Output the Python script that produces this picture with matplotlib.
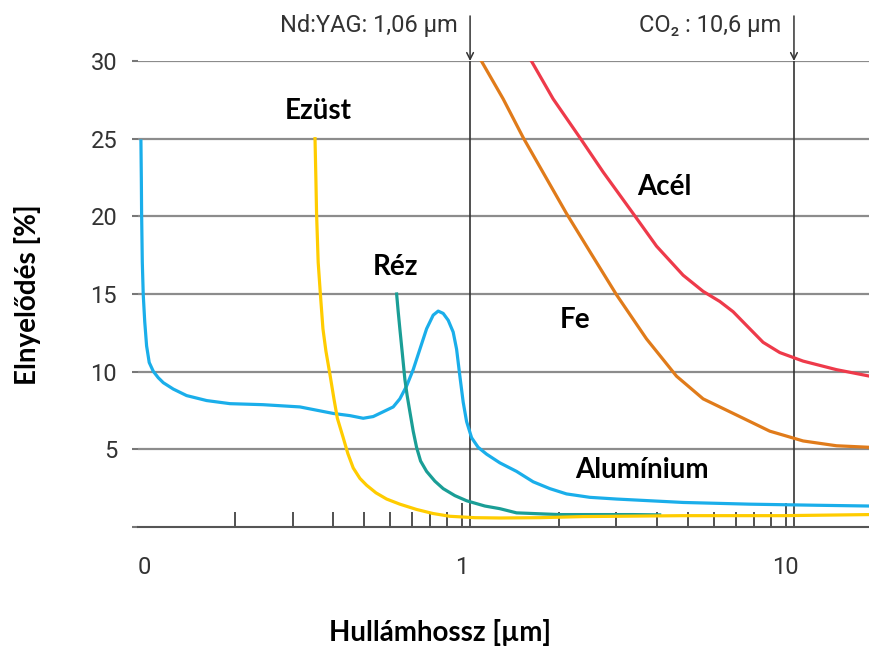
import numpy as np
import matplotlib
matplotlib.use("Agg")
import matplotlib.pyplot as plt
import matplotlib.transforms as mtransforms
from matplotlib.ticker import FixedLocator, NullFormatter

plt.rcParams['font.family'] = ['Roboto', 'DejaVu Sans']

# Wavelength [µm] / absorption [%] readings per metal
ag_x = [0.3520, 0.3542, 0.3559, 0.3600, 0.3658, 0.3724, 0.3804, 0.3915, 0.4027,
        0.4126, 0.4301, 0.4445, 0.4619, 0.4843, 0.5079, 0.5429, 0.5856, 0.6434,
        0.7246, 0.8138, 0.9183, 1.097, 1.31, 1.741, 2.36, 4.81, 9.79, 18.2]
ag_y = [25.0, 22.4, 20.18, 17.04, 14.95, 12.76, 11.32, 9.81, 8.25,
        7.0, 5.75, 4.73, 3.8, 3.13, 2.69, 2.2, 1.8, 1.47,
        1.13, 0.87, 0.69, 0.6, 0.58, 0.6, 0.67, 0.73, 0.73, 0.8]

cu_x = [0.6288, 0.6359, 0.6434, 0.6544, 0.6668, 0.6777, 0.6909, 0.7074, 0.7246,
        0.7455, 0.7781, 0.8254, 0.8756, 0.9514, 1.0339, 1.1776, 1.31, 1.475,
        1.741, 2.007, 2.667, 3.37, 4.08]
cu_y = [15.0, 13.86, 12.76, 11.23, 9.5, 8.46, 7.42, 6.17, 5.13,
        4.25, 3.58, 2.95, 2.47, 2.02, 1.69, 1.35, 1.18, 0.91,
        0.85, 0.8, 0.8, 0.8, 0.78]

al_x = [0.1021, 0.1024, 0.1026, 0.1031, 0.1038, 0.1049, 0.1063, 0.1083, 0.1115,
        0.1155, 0.1197, 0.1285, 0.1413, 0.1629, 0.1923, 0.2430, 0.3162, 0.3559,
        0.4007, 0.4511, 0.4958, 0.5324, 0.5717, 0.6137, 0.6434, 0.6751, 0.7074,
        0.7420, 0.7781, 0.8155, 0.8450, 0.8756, 0.9073, 0.9400, 0.9630, 0.9858,
        1.0093, 1.0339, 1.0713, 1.1226, 1.1918, 1.3099, 1.475, 1.66, 1.869,
        2.104, 2.483, 3.002, 3.804, 4.82, 7.74, 12.44, 18.17]
al_y = [24.85, 22.4, 20.18, 17.06, 14.95, 13.22, 11.66, 10.59, 10.02,
        9.61, 9.29, 8.88, 8.46, 8.14, 7.94, 7.875, 7.73, 7.52,
        7.31, 7.17, 7.0, 7.11, 7.42, 7.73, 8.25, 9.08, 10.13,
        11.45, 12.76, 13.64, 13.9, 13.75, 13.31, 12.55, 11.45, 9.71,
        8.04, 6.79, 5.75, 5.13, 4.69, 4.13, 3.58, 2.91, 2.47,
        2.13, 1.91, 1.8, 1.69, 1.58, 1.47, 1.4, 1.35]

fe_x = [1.150, 1.341, 1.546, 1.804, 2.104, 2.513, 3.002, 3.716, 4.599, 5.557,
        7.045, 8.925, 11.31, 14.34, 18.17]
fe_y = [29.98, 27.56, 25.07, 22.62, 20.18, 17.56, 14.95, 12.11, 9.71, 8.25,
        7.21, 6.17, 5.54, 5.23, 5.13]

steel_x = [1.641, 1.913, 2.313, 2.730, 3.379, 3.990, 4.82, 5.557, 6.256, 6.877,
           7.562, 8.511, 9.583, 11.31, 14.34, 18.17]
steel_y = [29.98, 27.56, 25.07, 22.85, 20.18, 18.08, 16.21, 15.17, 14.52, 13.86,
           12.98, 11.89, 11.23, 10.68, 10.13, 9.71]

laser_lines = [1.06, 10.6]
laser_labels = ['Nd:YAG: 1,06 µm', 'CO₂ : 10,6 µm']

yticks = [0, 5, 10, 15, 20, 25, 30]
ytick_labels = ['', '5', '10', '15', '20', '25', '30']
xticks = [0.1, 1, 10]
xtick_labels = ['0', '1', '10']
xminor = [0.2, 0.3, 0.4, 0.5, 0.6, 0.7, 0.8, 0.9, 2, 3, 4, 5, 6, 7, 8, 9]

fig = plt.figure(figsize=(8.7, 6.46), dpi=100)
ax = fig.add_axes([138 / 870, 1 - 527 / 646, 732 / 870, (527 - 61) / 646])

ax.set_xscale('log')
ax.set_xlim(0.1, 18.2)
ax.set_ylim(0, 30)

for v in yticks[1:]:
    ax.axhline(v, color='#8c8c8c', lw=1.6, zorder=1)

for xv in laser_lines:
    ax.plot([xv, xv], [0, 30], color='#333333', lw=1.2, zorder=2)

lw = 2.3
ax.plot(al_x, al_y, color='#1aaeea', lw=lw, zorder=3)
ax.plot(cu_x, cu_y, color='#1a9e96', lw=lw, zorder=3)
ax.plot(ag_x, ag_y, color='#ffcc00', lw=lw, zorder=4)
ax.plot(fe_x, fe_y, color='#e07b1a', lw=lw, zorder=3)
ax.plot(steel_x, steel_y, color='#ee3a4a', lw=lw, zorder=3)

bold = ['Lato', 'DejaVu Sans']
lab = dict(fontsize=20, fontweight='bold', family=bold,
           ha='center', va='center', color='black')
ax.text(0.36, 26.8, 'Ezüst', **lab)
ax.text(0.625, 16.75, 'Réz', **lab)
ax.text(4.23, 21.9, 'Acél', **lab)
ax.text(2.23, 13.3, 'Fe', **lab)
ax.text(3.59, 3.67, 'Alumínium', **lab)

# laser wavelength markers with arrows above the frame
for xv, txt in zip(laser_lines, laser_labels):
    ax.annotate('', xy=(xv, 30), xytext=(xv, 32.9), annotation_clip=False,
                arrowprops=dict(arrowstyle='->', color='#333333', lw=1.1,
                                shrinkA=0, shrinkB=0, mutation_scale=12))
    ax.annotate(txt, xy=(xv, 32.3), xytext=(-9, 0), textcoords='offset points',
                ha='right', va='center', fontsize=17, color='#333333',
                annotation_clip=False)

for s in ['top', 'right', 'left']:
    ax.spines[s].set_visible(False)
ax.spines['bottom'].set_color('#555555')
ax.spines['bottom'].set_linewidth(1.5)

ax.set_yticks(yticks)
ax.set_yticklabels(ytick_labels)
ax.tick_params(axis='y', direction='out', length=4, width=1.5, color='#777777',
               pad=11, labelsize=17, labelcolor='#333333')

ax.xaxis.set_major_locator(FixedLocator(xticks))
ax.set_xticklabels(xtick_labels)
ax.xaxis.set_minor_locator(FixedLocator(xminor))
ax.xaxis.set_minor_formatter(NullFormatter())
ax.tick_params(axis='x', which='major', direction='in', length=17, width=1.2,
               color='#333333', pad=21, labelsize=17, labelcolor='#333333')
ax.tick_params(axis='x', which='minor', direction='in', length=11, width=1.2,
               color='#333333')
ax.xaxis.get_major_ticks()[0].tick1line.set_visible(False)

# nudge the "0" label a little to the right of the frame edge
first = ax.get_xticklabels()[0]
first.set_transform(first.get_transform() +
                    mtransforms.ScaledTranslation(6 / 100, 0, fig.dpi_scale_trans))

fig.text(28 / 870, 1 - 295 / 646, 'Elnyelődés [%]', rotation=90, ha='center',
         va='center', fontsize=20, fontweight='bold', family=bold)
fig.text(440 / 870, 1 - 632 / 646, 'Hullámhossz [µm]', ha='center', va='center',
         fontsize=20, fontweight='bold', family=bold)

fig.savefig('out.png', dpi=100)
